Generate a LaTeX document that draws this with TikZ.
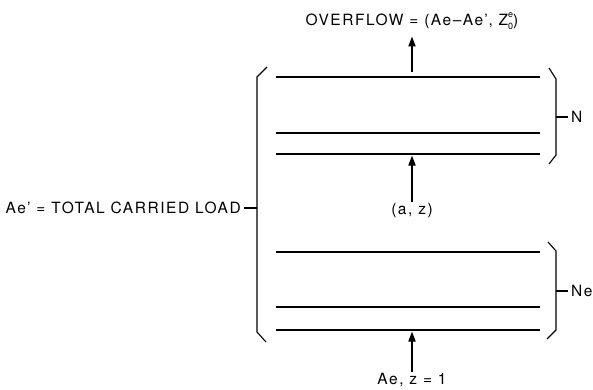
\documentclass[tikz,border=0pt]{standalone}
\usepackage{fontspec}
\setmainfont{TeX Gyre Heros}
\newfontfamily\lblfont[LetterSpace=10]{TeX Gyre Heros}
\usetikzlibrary{arrows.meta,positioning}
\tikzset{
  trunk/.style={line width=1.7pt},
  bracket/.style={line width=1.1pt},
  flow/.style={-{Triangle[length=10pt,width=7pt]}, line width=1.7pt},
  lbl/.style={font=\lblfont\fontsize{15.5}{17}\selectfont, inner sep=1pt}
}
\newcommand\supsub[2]{\rlap{\raisebox{7.5pt}{\fontsize{9}{9}\selectfont #1}}\raisebox{-4pt}{\fontsize{9}{9}\selectfont #2}}
\begin{document}
\begin{tikzpicture}[x=1pt, y=-1pt]
  \useasboundingbox (0,0) rectangle (593,389);
  % trunk groups
  \foreach \y/\n in {77/t1, 133/t2, 154/t3, 252/b1, 307/b2, 330/b3} {
    \draw[trunk] (276,\y) -- (540,\y);
    \coordinate (\n) at (412,\y);
  }
  % outer bracket
  \draw[bracket] (267,67) -- (257,77) -- (257,332) -- (266,342);
  \coordinate (mid) at (257,208);
  % braces
  \draw[bracket] (549,68) -- (556,79) -- (556,155) -- (549,164);
  \draw[bracket] (556,117) -- (568,117) coordinate (nTip);
  \draw[bracket] (548,242) -- (556,251) -- (556,330) -- (547,339);
  \draw[bracket] (556,291) -- (568,291) coordinate (neTip);
  \node[lbl, anchor=west] (n) at ([xshift=2pt]nTip) {N};
  \node[lbl, anchor=west] (ne) at ([xshift=2pt]neTip) {Ne};
  % labels
  \node[lbl] (ovf) at (412,21) {OVERFLOW = (Ae\textendash Ae’, Z\supsub{e}{0})};
  \node[lbl, anchor=north] (az) at (412,202) {(a, z)};
  \node[lbl, anchor=north] (src) at (412,372) {Ae, z = 1};
  \node[lbl, anchor=east] (load) at (242,208) {Ae’ = TOTAL CARRIED LOAD};
  % arrows
  \draw[flow, shorten <=5pt] (t1) -- ([yshift=-6pt]ovf.south);
  \draw[flow, shorten >=1.5pt] (az) -- (t3);
  \draw[flow, shorten >=1.5pt] (src) -- (b3);
  \draw[bracket] ([xshift=2pt]load.east) -- (mid);
\end{tikzpicture}
\end{document}
